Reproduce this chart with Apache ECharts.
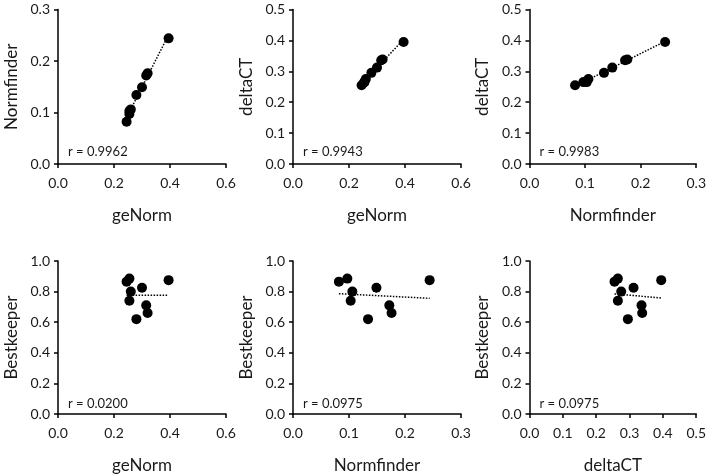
<!DOCTYPE html>
<html><head><meta charset="utf-8">
<script src="https://cdn.jsdelivr.net/npm/echarts/dist/echarts.min.js"></script>
<style>html,body{margin:0;padding:0;background:#fff}#c{width:709px;height:475px}</style>
</head><body><div id="c"></div>
<script>
// Stability values of 9 reference genes, per algorithm
const geNorm     = [0.245, 0.255, 0.260, 0.255, 0.280, 0.300, 0.315, 0.320, 0.395];
const normfinder = [0.082, 0.097, 0.106, 0.103, 0.134, 0.149, 0.172, 0.176, 0.244];
const deltaCT    = [0.255, 0.265, 0.275, 0.265, 0.295, 0.312, 0.336, 0.338, 0.395];
const bestkeeper = [0.865, 0.885, 0.800, 0.740, 0.620, 0.825, 0.710, 0.660, 0.875];
const rLabels = ['r = 0.9962', 'r = 0.9943', 'r = 0.9983', 'r = 0.0200', 'r = 0.0975', 'r = 0.0975'];

const panels = [
  {x: geNorm, y: normfinder, xn: 'geNorm', yn: 'Normfinder', xmax: 0.6, xi: 0.2, ymax: 0.3, yi: 0.1},
  {x: geNorm, y: deltaCT, xn: 'geNorm', yn: 'deltaCT', xmax: 0.6, xi: 0.2, ymax: 0.5, yi: 0.1},
  {x: normfinder, y: deltaCT, xn: 'Normfinder', yn: 'deltaCT', xmax: 0.3, xi: 0.1, ymax: 0.5, yi: 0.1},
  {x: geNorm, y: bestkeeper, xn: 'geNorm', yn: 'Bestkeeper', xmax: 0.6, xi: 0.2, ymax: 1.0, yi: 0.2},
  {x: normfinder, y: bestkeeper, xn: 'Normfinder', yn: 'Bestkeeper', xmax: 0.3, xi: 0.1, ymax: 1.0, yi: 0.2},
  {x: deltaCT, y: bestkeeper, xn: 'deltaCT', yn: 'Bestkeeper', xmax: 0.5, xi: 0.1, ymax: 1.0, yi: 0.2}
];
const lefts = [58, 293, 529.5];
const tops = [9.5, 261];
const W = 168, H = 154.5;
const FONT = 'Lato';
const txt = '#1a1a1a';

function fit(xs, ys) {
  const n = xs.length;
  const mx = xs.reduce((a, b) => a + b, 0) / n;
  const my = ys.reduce((a, b) => a + b, 0) / n;
  let sxy = 0, sxx = 0;
  for (let i = 0; i < n; i++) { sxy += (xs[i] - mx) * (ys[i] - my); sxx += (xs[i] - mx) ** 2; }
  const b = sxy / sxx, a = my - b * mx;
  const x0 = Math.min(...xs), x1 = Math.max(...xs);
  return [[x0, a + b * x0], [x1, a + b * x1]];
}

const grid = [], xAxis = [], yAxis = [], series = [], title = [];
panels.forEach((p, i) => {
  const col = i % 3, row = Math.floor(i / 3);
  grid.push({left: lefts[col], top: tops[row], width: W, height: H});
  const axisCommon = {
    axisLine: {lineStyle: {color: '#000', width: 1.5}},
    axisTick: {show: true, inside: false, length: 4, lineStyle: {color: '#000', width: 1.5}},
    splitLine: {show: false},
    nameLocation: 'middle',
    nameTextStyle: {fontFamily: FONT, fontSize: 17, color: txt},
    axisLabel: {fontFamily: FONT, fontSize: 14, color: txt, formatter: v => v.toFixed(1)}
  };
  xAxis.push(Object.assign({}, axisCommon, {
    type: 'value', gridIndex: i, min: 0, max: p.xmax, interval: p.xi, name: p.xn, nameGap: 43,
    axisLabel: Object.assign({}, axisCommon.axisLabel, {margin: 12})
  }));
  yAxis.push(Object.assign({}, axisCommon, {
    type: 'value', gridIndex: i, min: 0, max: p.ymax, interval: p.yi, name: p.yn, nameGap: 38,
    axisLabel: Object.assign({}, axisCommon.axisLabel, {margin: 8})
  }));
  series.push({
    type: 'line', xAxisIndex: i, yAxisIndex: i, data: fit(p.x, p.y), symbol: 'none',
    lineStyle: {color: '#000', width: 1.5, type: [1.5, 1.5]}, z: 1, silent: true
  });
  series.push({
    type: 'scatter', xAxisIndex: i, yAxisIndex: i, data: p.x.map((v, k) => [v, p.y[k]]),
    symbol: 'circle', symbolSize: 10, itemStyle: {color: '#000', opacity: 1}, z: 2
  });
  title.push({
    text: rLabels[i], left: lefts[col] + 10, top: tops[row] + 136, padding: 0,
    textStyle: {fontFamily: FONT, fontSize: 13, fontWeight: 'normal', color: txt}
  });
});

const chart = echarts.init(document.getElementById('c'), null, {renderer: 'canvas'});
chart.setOption({animation: false, backgroundColor: '#fff', title, grid, xAxis, yAxis, series});
</script></body></html>
